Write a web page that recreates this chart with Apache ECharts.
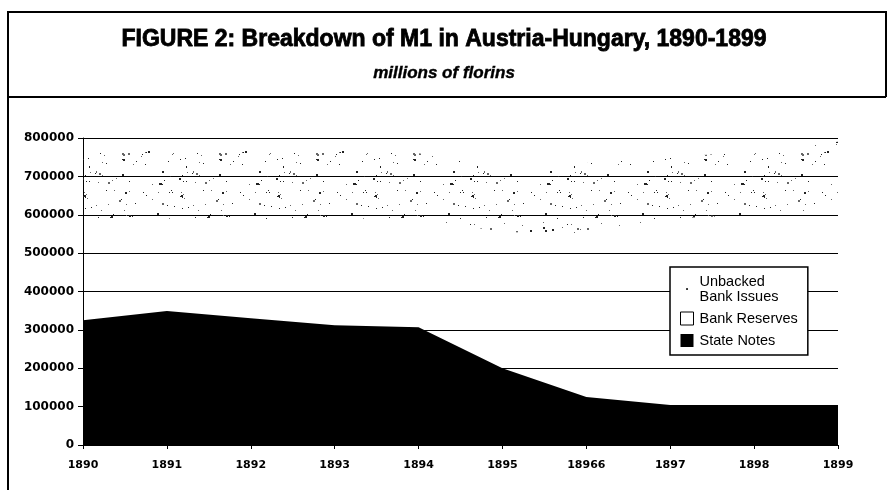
<!DOCTYPE html>
<html lang="en">
<head>
    <meta charset="UTF-8">
    <title>Breakdown of M1 in Austria-Hungary</title>
    <script src="https://cdn.jsdelivr.net/npm/echarts@6/dist/echarts.min.js"></script>
    <style>
        html, body { margin: 0; padding: 0; background: #fff; }
        #main { width: 888px; height: 490px; }
    </style>
</head>
<body>
<div id="main"></div>
<script>
    // years as printed (the "18966" typo is in the original)
    var years = ['1890', '1891', '1892', '1893', '1894', '1895', '18966', '1897', '1898', '1899'];
    var stateNotes = [325000, 349000, 330000, 312000, 307000, 200000, 125000, 104000, 104000, 104000];
    var bankReserves = [255000, 241000, 255000, 278000, 283000, 355000, 425000, 486000, 496000, 506000];
    var unbackedIssues = [190000, 180000, 190000, 185000, 170000, 170000, 185000, 160000, 165000, 180000];

    // speckled fill for the unbacked issues (texture only, fixed seed)
    function speckle() {
        var c = document.createElement('canvas');
        c.width = 97; c.height = 89;
        var ctx = c.getContext('2d');
        var s = 12345;
        function rnd() { s = (s * 16807) % 2147483647; return s / 2147483647; }
        for (var i = 0; i < 105; i++) {
            var x = Math.floor(rnd() * 97), y = Math.floor(rnd() * 89);
            var sz = rnd() < 0.25 ? 2 : 1;
            ctx.fillStyle = rnd() < 0.5 ? '#222' : '#666';
            ctx.fillRect(x, y, sz, sz);
        }
        return c;
    }
    function dotIcon() {
        var c = document.createElement('canvas');
        c.width = 14; c.height = 14;
        var ctx = c.getContext('2d');
        ctx.fillStyle = '#333';
        ctx.fillRect(6, 6, 2, 2);
        return 'image://' + c.toDataURL();
    }

    var myChart = echarts.init(document.getElementById('main'));
    var labelFont = { color: '#000', fontFamily: 'DejaVu Sans', fontWeight: 'bold' };
    option = {
        backgroundColor: '#fff',
        animation: false,
        title: [
            {
                text: 'FIGURE 2: Breakdown of M1 in Austria-Hungary, 1890-1899',
                left: 'center',
                top: 23,
                textStyle: { fontFamily: 'Liberation Sans', fontWeight: 'bold', fontSize: 23, color: '#000',
                    textBorderColor: '#000', textBorderWidth: 0.8 }
            },
            {
                text: 'millions of florins',
                left: 'center',
                top: 60,
                textStyle: { fontFamily: 'Liberation Sans', fontWeight: 'bold', fontStyle: 'italic', fontSize: 17, color: '#000',
                    textBorderColor: '#000', textBorderWidth: 0.4 }
            }
        ],
        graphic: [
            { type: 'polyline', shape: { points: [[8, 490], [8, 12], [886, 12], [886, 97]] }, style: { stroke: '#000', lineWidth: 2, fill: null } },
            { type: 'line', shape: { x1: 8, y1: 97, x2: 886, y2: 97 }, style: { stroke: '#000', lineWidth: 2 } }
        ],
        legend: {
            orient: 'vertical',
            left: 670,
            top: 267,
            padding: [7, 10, 7, 10],
            itemGap: 7,
            itemWidth: 13,
            itemHeight: 13,
            backgroundColor: '#fff',
            borderColor: '#000',
            borderWidth: 1.5,
            borderRadius: 0,
            selectedMode: false,
            textStyle: { fontFamily: 'Liberation Sans', fontSize: 14.5, color: '#000', lineHeight: 15, padding: [0, 0, 0, 1] },
            data: [
                { name: 'Unbacked\nBank Issues', icon: dotIcon() },
                { name: 'Bank Reserves', icon: 'rect', itemStyle: { color: '#fff', borderColor: '#000', borderWidth: 1 } },
                { name: 'State Notes', icon: 'rect' }
            ]
        },
        grid: { left: 83, right: 50, top: 138, bottom: 45 },
        xAxis: {
            type: 'category',
            boundaryGap: false,
            data: years,
            axisLine: { lineStyle: { color: '#000', width: 1 } },
            axisTick: { lineStyle: { color: '#000' }, length: 4 },
            axisLabel: Object.assign({ fontSize: 11, margin: 15 }, labelFont),
            splitLine: { show: false }
        },
        yAxis: {
            type: 'value',
            min: 0,
            max: 800000,
            interval: 100000,
            axisLine: { show: true, lineStyle: { color: '#000', width: 1 } },
            axisTick: { show: true, length: 5, lineStyle: { color: '#000' } },
            axisLabel: Object.assign({ fontSize: 12, margin: 9, formatter: function (v) { return String(v); } }, labelFont),
            splitLine: { lineStyle: { color: '#000', width: 1.2 } }
        },
        series: [
            {
                name: 'State Notes',
                type: 'line',
                stack: 'm1',
                data: stateNotes,
                showSymbol: false,
                lineStyle: { width: 0 },
                itemStyle: { color: '#000' },
                areaStyle: { color: '#000', opacity: 1 }
            },
            {
                name: 'Bank Reserves',
                type: 'line',
                stack: 'm1',
                data: bankReserves,
                showSymbol: false,
                lineStyle: { width: 0 },
                itemStyle: { color: '#fff', borderColor: '#000' },
                areaStyle: { color: 'rgba(255,255,255,0)' }
            },
            {
                name: 'Unbacked\nBank Issues',
                type: 'line',
                stack: 'm1',
                data: unbackedIssues,
                showSymbol: false,
                lineStyle: { width: 0 },
                itemStyle: { color: '#333' },
                areaStyle: { color: { image: speckle(), repeat: 'repeat' }, opacity: 1 }
            }
        ]
    };
    myChart.setOption(option);
</script>
</body>
</html>
